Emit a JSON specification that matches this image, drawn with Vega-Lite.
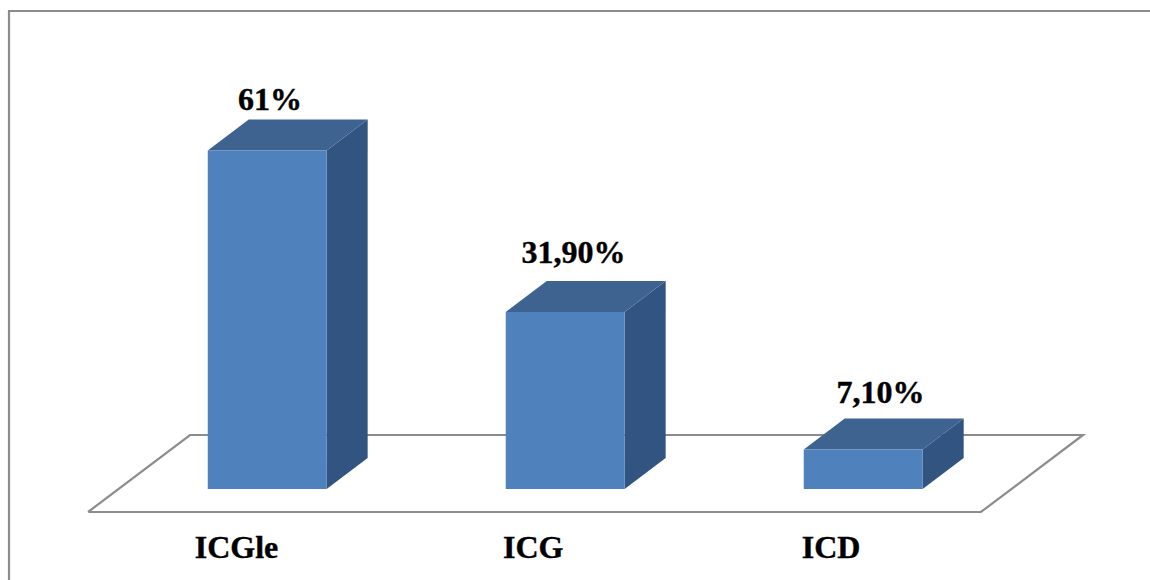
{
  "$schema": "https://vega.github.io/schema/vega-lite/v6.json",
  "autosize": {"type": "fit", "contains": "padding"},
  "width": 1150,
  "height": 580,
  "padding": 0,
  "background": "white",
  "view": {"stroke": null},
  "datasets": {
    "bars": [
      {"category": "ICGle", "value": 61, "label": "61%", "slot": 0},
      {"category": "ICG", "value": 31.9, "label": "31,90%", "slot": 1},
      {"category": "ICD", "value": 7.1, "label": "7,10%", "slot": 2}
    ],
    "corners": [{"corner": 0}, {"corner": 1}, {"corner": 2}, {"corner": 3}, {"corner": 4}]
  },
  "layer": [
    {
      "description": "Outer chart border: left and top edges, running off the canvas",
      "data": {"name": "corners"},
      "transform": [
        {"filter": "datum.corner < 3"},
        {"calculate": "[-0.8674, -0.8674, 3.1][datum.corner]", "as": "bx"},
        {"calculate": "[-20, 86.126, 86.126][datum.corner]", "as": "by"}
      ],
      "mark": {"type": "line", "color": "#8c8c8c", "strokeWidth": 2.2, "strokeJoin": "miter", "clip": true},
      "encoding": {
        "x": {"field": "bx", "type": "quantitative", "scale": {"domain": [-0.89765, 2.96141], "nice": false, "zero": false}, "axis": null},
        "y": {"field": "by", "type": "quantitative", "scale": {"domain": [-16.396, 88.108], "nice": false, "zero": false}, "axis": null},
        "order": {"field": "corner", "type": "quantitative"}
      }
    },
    {
      "description": "Perspective floor outline under the bars",
      "data": {"name": "corners"},
      "transform": [
        {"calculate": "[-0.6023, 2.394, 2.7366, -0.26, -0.6023][datum.corner]", "as": "fx"},
        {"calculate": "[-4.144, -4.144, 9.73, 9.73, -4.144][datum.corner]", "as": "fy"}
      ],
      "mark": {"type": "line", "color": "#8c8c8c", "strokeWidth": 2.2, "strokeJoin": "miter"},
      "encoding": {
        "x": {"field": "fx", "type": "quantitative", "scale": {"domain": [-0.89765, 2.96141], "nice": false, "zero": false}, "axis": null},
        "y": {"field": "fy", "type": "quantitative", "scale": {"domain": [-16.396, 88.108], "nice": false, "zero": false}, "axis": null},
        "order": {"field": "corner", "type": "quantitative"}
      }
    },
    {
      "description": "Right-hand side face of each bar",
      "data": {"name": "bars"},
      "transform": [
        {"calculate": "[0, 1]", "as": "corner"},
        {"flatten": ["corner"]},
        {"calculate": "datum.slot + 0.1985 + datum.corner * 0.1376", "as": "sx"},
        {"calculate": "datum.corner * 5.586", "as": "sy"},
        {"calculate": "datum.value + datum.corner * 5.586", "as": "sy2"}
      ],
      "mark": {"type": "area", "color": "#325480", "orient": "vertical"},
      "encoding": {
        "x": {"field": "sx", "type": "quantitative", "scale": {"domain": [-0.89765, 2.96141], "nice": false, "zero": false}, "axis": null},
        "y": {"field": "sy", "type": "quantitative", "scale": {"domain": [-16.396, 88.108], "nice": false, "zero": false}, "axis": null},
        "y2": {"field": "sy2"},
        "detail": {"field": "category"}
      }
    },
    {
      "description": "Top face of each bar",
      "data": {"name": "bars"},
      "transform": [
        {"calculate": "[0, 1]", "as": "corner"},
        {"flatten": ["corner"]},
        {"calculate": "datum.slot - 0.2005 + datum.corner * 0.1376", "as": "tx"},
        {"calculate": "datum.slot + 0.1985 + datum.corner * 0.1376", "as": "tx2"},
        {"calculate": "datum.value + datum.corner * 5.586", "as": "ty"}
      ],
      "mark": {"type": "area", "color": "#3e6391", "orient": "horizontal"},
      "encoding": {
        "x": {"field": "tx", "type": "quantitative", "scale": {"domain": [-0.89765, 2.96141], "nice": false, "zero": false}, "axis": null},
        "x2": {"field": "tx2"},
        "y": {"field": "ty", "type": "quantitative", "scale": {"domain": [-16.396, 88.108], "nice": false, "zero": false}, "axis": null},
        "detail": {"field": "category"}
      }
    },
    {
      "description": "Front face of each bar",
      "data": {"name": "bars"},
      "transform": [
        {"calculate": "datum.slot - 0.2005", "as": "fx"},
        {"calculate": "datum.slot + 0.1985", "as": "fx2"}
      ],
      "mark": {"type": "rect", "color": "#4f81bd"},
      "encoding": {
        "x": {"field": "fx", "type": "quantitative", "scale": {"domain": [-0.89765, 2.96141], "nice": false, "zero": false}, "axis": null},
        "x2": {"field": "fx2"},
        "y": {"field": "value", "type": "quantitative", "scale": {"domain": [-16.396, 88.108], "nice": false, "zero": false}, "axis": null},
        "y2": {"datum": 0}
      }
    },
    {
      "description": "Value labels above each bar",
      "data": {"name": "bars"},
      "transform": [
        {"calculate": "datum.slot + [-0.099, -0.1477, -0.0906][datum.slot]", "as": "lx"},
        {"calculate": "datum.value + 5.586 + [1.62, 3.24, 2.88][datum.slot]", "as": "ly"}
      ],
      "mark": {"type": "text", "font": "Liberation Serif", "fontWeight": "bold", "fontSize": 32, "align": "left", "baseline": "alphabetic", "color": "#000000", "stroke": "#000000", "strokeWidth": 0.4},
      "encoding": {
        "x": {"field": "lx", "type": "quantitative", "scale": {"domain": [-0.89765, 2.96141], "nice": false, "zero": false}, "axis": null},
        "y": {"field": "ly", "type": "quantitative", "scale": {"domain": [-16.396, 88.108], "nice": false, "zero": false}, "axis": null},
        "text": {"field": "label"}
      }
    },
    {
      "description": "Category names below the floor",
      "data": {"name": "bars"},
      "transform": [
        {"calculate": "datum.slot + [-0.2443, -0.2097, -0.2074][datum.slot]", "as": "cx"},
        {"calculate": "-12.43", "as": "cy"}
      ],
      "mark": {"type": "text", "font": "Liberation Serif", "fontWeight": "bold", "fontSize": 32, "align": "left", "baseline": "alphabetic", "color": "#000000", "stroke": "#000000", "strokeWidth": 0.4},
      "encoding": {
        "x": {"field": "cx", "type": "quantitative", "scale": {"domain": [-0.89765, 2.96141], "nice": false, "zero": false}, "axis": null},
        "y": {"field": "cy", "type": "quantitative", "scale": {"domain": [-16.396, 88.108], "nice": false, "zero": false}, "axis": null},
        "text": {"field": "category"}
      }
    }
  ]
}
